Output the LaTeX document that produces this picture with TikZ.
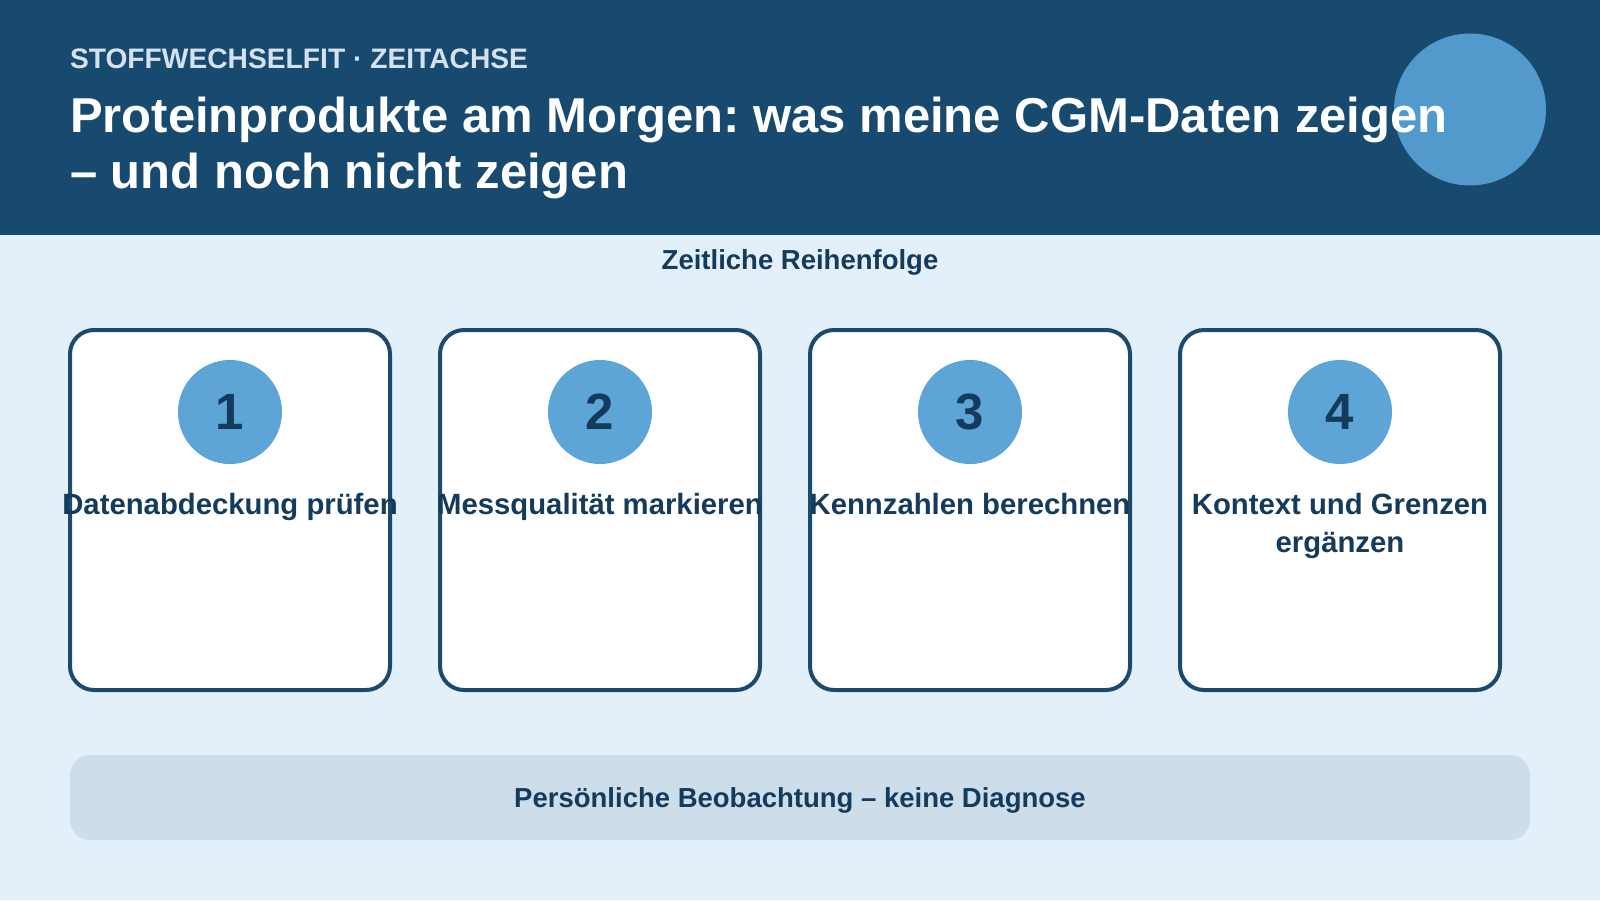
\documentclass[tikz,border=0pt]{standalone}
\usepackage{fontspec}
\setmainfont{Liberation Sans}
\frenchspacing
\definecolor{pagebg}{HTML}{E3F0FA}
\definecolor{headbg}{HTML}{184A70}
\definecolor{headcirc}{HTML}{5299CC}
\definecolor{subtxt}{HTML}{D5E1EE}
\definecolor{navy}{HTML}{143A5C}
\definecolor{cardline}{HTML}{1B4A6E}
\definecolor{badgeblue}{HTML}{5CA5D6}
\definecolor{footbg}{HTML}{CDDDEA}
\begin{document}
\begin{tikzpicture}[x=1pt,y=-1pt,
  txt/.style={inner sep=0pt, outer sep=0pt},
  card/.style={draw=cardline, line width=4pt, fill=white, rounded corners=24pt,
    minimum width=320pt, minimum height=360pt, inner sep=0pt},
  badge/.style={circle, fill=badgeblue, minimum size=104pt, inner sep=0pt,
    text=navy, font=\bfseries\fontsize{51}{60}\selectfont},
  cardlabel/.style={txt, text=navy, align=center, anchor=base,
    font=\bfseries\fontsize{29.3}{38}\selectfont}]
\useasboundingbox (0,0) rectangle (1600,900);
\fill[pagebg] (0,0) rectangle (1600,900);
\fill[headbg] (0,0) rectangle (1600,235);
\node[circle, fill=headcirc, minimum size=152pt, inner sep=0pt] (hcirc) at (1470,109.5) {};
\node[txt, anchor=base west, text=subtxt, font=\bfseries\fontsize{28.2}{33}\selectfont] (kicker) at (70,68) {STOFFWECHSELFIT · ZEITACHSE};
\node[txt, anchor=base west, text=white, font=\bfseries\fontsize{49}{56}\selectfont] (title1) at (70,132) {Proteinprodukte am Morgen: was meine CGM-Daten zeigen};
\node[txt, anchor=base west, text=white, font=\bfseries\fontsize{49}{56}\selectfont] (title2) at (70,188) {– und noch nicht zeigen};
\node[txt, anchor=base, text=navy, font=\bfseries\fontsize{27.5}{30}\selectfont] (seq) at (800,269) {Zeitliche Reihenfolge};
\foreach \i/\cx/\ly/\lab in {1/230/514/{Datenabdeckung prüfen},2/600/514/{Messqualität markieren},3/970/514/{Kennzahlen berechnen},4/1340/552/{Kontext und Grenzen\\ergänzen}}{
  \node[card] (card\i) at (\cx,510) {};
  \node[badge] (badge\i) at (\cx,412) {\i};
  \node[cardlabel] (lab\i) at (\cx,\ly) {\lab};
}
\node[fill=footbg, rounded corners=20pt, minimum width=1460pt, minimum height=85pt, inner sep=0pt] (foot) at (800,797.5) {};
\node[txt, anchor=base, text=navy, font=\bfseries\fontsize{27.5}{30}\selectfont] (foottxt) at (800,807) {Persönliche Beobachtung – keine Diagnose};
\end{tikzpicture}
\end{document}
